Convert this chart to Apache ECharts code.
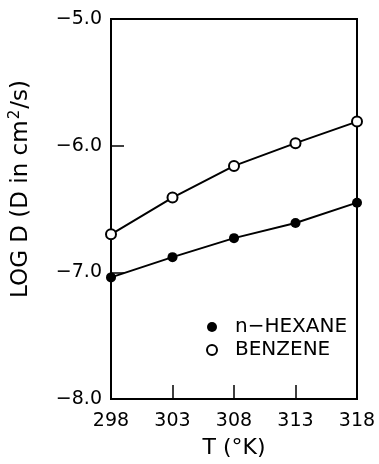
<!DOCTYPE html>
<html>
<head>
<meta charset="utf-8">
<script src="https://cdn.jsdelivr.net/npm/echarts@6/dist/echarts.min.js"></script>
<style>
  html, body { margin: 0; padding: 0; background: #fff; }
  #chart { width: 379px; height: 464px; }
</style>
</head>
<body>
<div id="chart"></div>
<script>
// temperatures (K) and log D values
const temps = [298, 303, 308, 313, 318];
const hexane = [-7.04, -6.88, -6.73, -6.61, -6.45];
const benzene = [-6.70, -6.41, -6.16, -5.98, -5.81];
const seriesNames = ['n\u2212HEXANE', 'BENZENE'];

const font = 'DejaVu Sans, sans-serif';
const pair = (xs, ys) => xs.map((x, i) => [x, ys[i]]);

const chart = echarts.init(document.getElementById('chart'));

const option = {
    animation: false,
    backgroundColor: '#fff',
    textStyle: { fontFamily: font, color: '#000' },
    grid: {
        left: 110,
        right: 22,
        top: 19,
        bottom: 65,
        show: true,
        borderColor: '#000',
        borderWidth: 2
    },
    legend: {
        orient: 'vertical',
        left: 206,
        top: 317,
        padding: 0,
        itemWidth: 10,
        itemHeight: 10,
        itemGap: 3,
        textStyle: { fontFamily: font, fontSize: 20, color: '#000', padding: [0, 0, 0, 13] },
        data: [
            { name: seriesNames[0], icon: 'circle' },
            { name: seriesNames[1], icon: 'emptyCircle' }
        ]
    },
    xAxis: {
        type: 'value',
        min: 298,
        max: 318,
        interval: 5,
        name: 'T (\u00b0K)',
        nameLocation: 'middle',
        nameGap: 38,
        nameTextStyle: { fontFamily: font, fontSize: 22, color: '#000' },
        axisLine: { show: true, lineStyle: { color: '#000', width: 2 } },
        axisTick: { show: true, inside: true, length: 14, lineStyle: { color: '#000', width: 1.5 } },
        axisLabel: { fontFamily: font, fontSize: 19, color: '#000', margin: 13 },
        splitLine: { show: false }
    },
    yAxis: {
        type: 'value',
        min: -8,
        max: -5,
        interval: 1,
        name: '{n|LOG D (D in cm}{sup|2}{n|/s)}',
        nameLocation: 'middle',
        nameGap: 76,
        nameTextStyle: {
            padding: [0, 0, 0, 40],
            rich: {
                n: { fontFamily: font, fontSize: 23, color: '#000' },
                sup: { fontFamily: font, fontSize: 15, color: '#000', padding: [0, 1, 12, 1] }
            }
        },
        axisLine: { show: true, lineStyle: { color: '#000', width: 2 } },
        axisTick: { show: true, inside: true, length: 13, lineStyle: { color: '#000', width: 1.5 } },
        axisLabel: {
            fontFamily: font, fontSize: 19, color: '#000', margin: 9,
            formatter: v => (v < 0 ? '\u2212' : '') + Math.abs(v).toFixed(1)
        },
        splitLine: { show: false }
    },
    series: [
        {
            name: seriesNames[0],
            type: 'line',
            data: pair(temps, hexane),
            symbol: 'circle',
            symbolSize: 10,
            itemStyle: { color: '#000' },
            lineStyle: { color: '#000', width: 2 }
        },
        {
            name: seriesNames[1],
            type: 'line',
            data: pair(temps, benzene),
            symbol: 'emptyCircle',
            symbolSize: 10,
            itemStyle: { color: '#000', borderWidth: 1.6 },
            lineStyle: { color: '#000', width: 2 }
        }
    ]
};

chart.setOption(option);
</script>
</body>
</html>
